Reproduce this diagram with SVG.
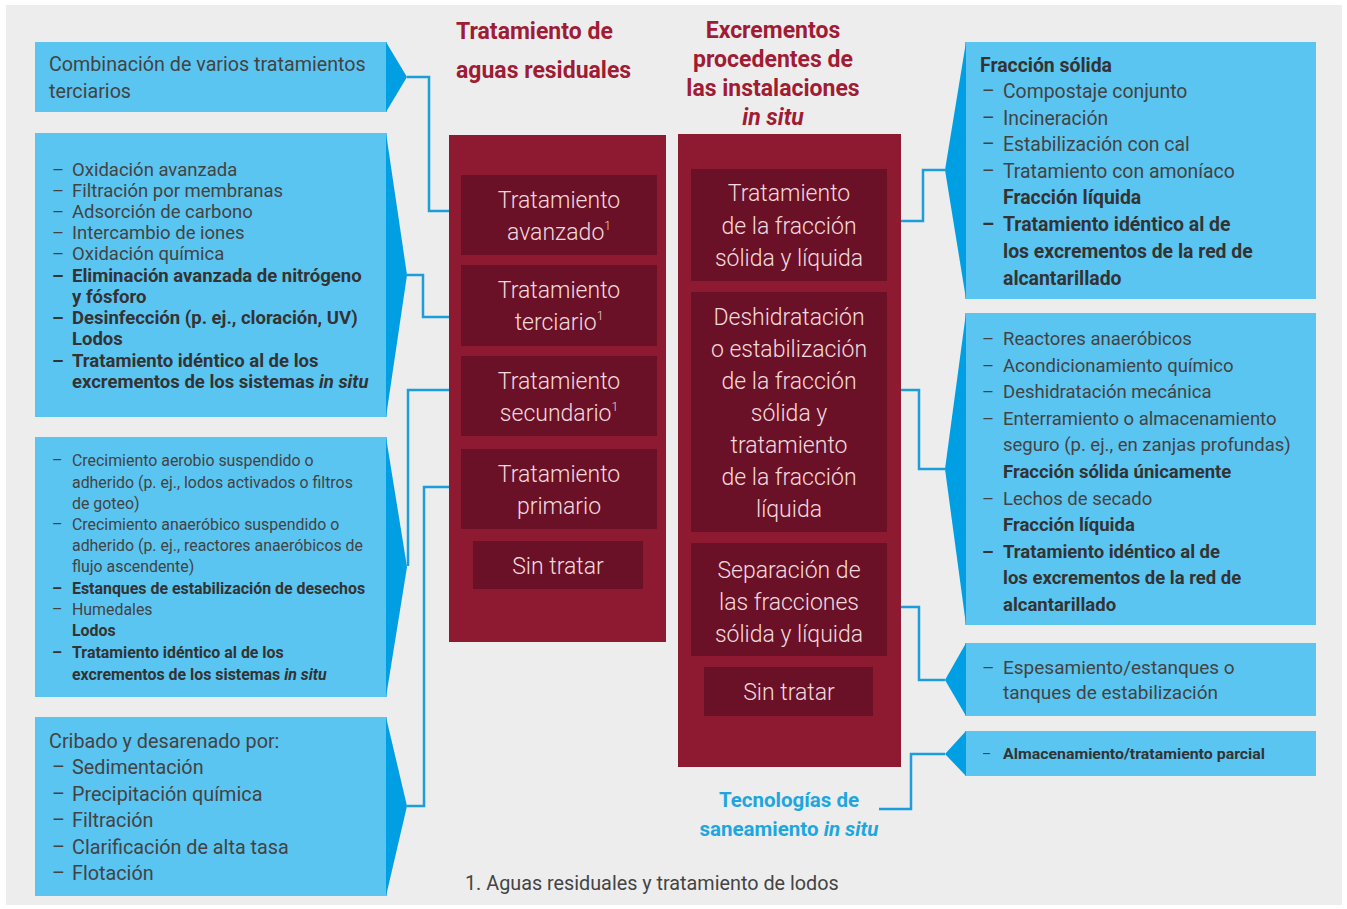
<svg xmlns="http://www.w3.org/2000/svg" width="1347" height="909" viewBox="0 0 1347 909">
<style>
text{font-family:Roboto,"Liberation Sans",sans-serif}
.bx{fill:#5bc5f2}
.tp{fill:#009fe3}
.col{fill:#8e1a31}
.in{fill:#6b1127}
.ct{fill:#f3d9de;font-size:23px;font-weight:300;text-anchor:middle}
.hd{fill:#a01c34;font-size:23px;font-weight:700}
.t{fill:#434343}
.b{font-weight:700;fill:#333}
.conn path{fill:none;stroke:#1b9edb;stroke-width:2.5}
</style>
<rect x="0" y="0" width="1347" height="909" fill="#ffffff"/>
<rect x="6" y="5" width="1336" height="900" fill="#ededed"/>

<g id="headers">
<text class="hd" x="456" y="39">Tratamiento de</text>
<text class="hd" x="456" y="78">aguas residuales</text>
<text class="hd" x="773" y="38" text-anchor="middle">Excrementos</text>
<text class="hd" x="773" y="67" text-anchor="middle">procedentes de</text>
<text class="hd" x="773" y="96" text-anchor="middle">las instalaciones</text>
<text class="hd" x="773" y="125" text-anchor="middle" font-style="italic">in situ</text>
</g>

<g id="col-aguas">
<rect class="col" x="449" y="135" width="217" height="507"/>
<g id="avanzado"><rect class="in" x="461" y="175" width="196" height="80"/>
<text class="ct" x="559" y="208">Tratamiento</text><text class="ct" x="559" y="240">avanzado<tspan font-size="12" dy="-10">1</tspan></text></g>
<g id="terciario"><rect class="in" x="461" y="265" width="196" height="81"/>
<text class="ct" x="559" y="298">Tratamiento</text><text class="ct" x="559" y="330">terciario<tspan font-size="12" dy="-10">1</tspan></text></g>
<g id="secundario"><rect class="in" x="461" y="356" width="196" height="80"/>
<text class="ct" x="559" y="389">Tratamiento</text><text class="ct" x="559" y="421">secundario<tspan font-size="12" dy="-10">1</tspan></text></g>
<g id="primario"><rect class="in" x="461" y="449" width="196" height="80"/>
<text class="ct" x="559" y="482">Tratamiento</text><text class="ct" x="559" y="514">primario</text></g>
<g id="sintratar1"><rect class="in" x="473" y="541" width="170" height="48"/>
<text class="ct" x="558" y="574">Sin tratar</text></g>
</g>

<g id="col-excrementos">
<rect class="col" x="678" y="134" width="223" height="633"/>
<g id="fraccion"><rect class="in" x="691" y="169" width="196" height="112"/>
<text class="ct" x="789" y="201">Tratamiento</text><text class="ct" x="789" y="234">de la fracción</text><text class="ct" x="789" y="266">sólida y líquida</text></g>
<g id="deshidratacion"><rect class="in" x="691" y="292" width="196" height="240"/>
<text class="ct" x="789" y="325">Deshidratación</text><text class="ct" x="789" y="357">o estabilización</text><text class="ct" x="789" y="389">de la fracción</text><text class="ct" x="789" y="421">sólida y</text><text class="ct" x="789" y="453">tratamiento</text><text class="ct" x="789" y="485">de la fracción</text><text class="ct" x="789" y="517">líquida</text></g>
<g id="separacion"><rect class="in" x="691" y="543" width="196" height="113"/>
<text class="ct" x="789" y="578">Separación de</text><text class="ct" x="789" y="610">las fracciones</text><text class="ct" x="789" y="642">sólida y líquida</text></g>
<g id="sintratar2"><rect class="in" x="704" y="667" width="169" height="49"/>
<text class="ct" x="789" y="700">Sin tratar</text></g>
</g>

<g class="conn" id="connectors">
<path d="M407,77 H429 V211 H449"/>
<path d="M407,275 H423 V317 H449"/>
<path d="M408,566 V390 H449"/>
<path d="M407,806 H424 V487 H449"/>
<path d="M901,221 H923 V170 H945"/>
<path d="M901,390 H919 V469 H945"/>
<path d="M901,607 H919 V680 H945"/>
<path d="M945,754 H911 V809 H879"/>
</g>

<g id="L1">
<rect class="bx" x="35" y="42" width="352" height="70"/>
<polygon class="tp" points="386,42 407,77 386,112"/>
<g class="t" font-size="19.7"><text x="49" y="71">Combinación de varios tratamientos</text><text x="49" y="98">terciarios</text></g>
</g>

<g id="L2">
<rect class="bx" x="35" y="133" width="352" height="284"/>
<polygon class="tp" points="386,133 407,275 386,417"/>
<g class="t" font-size="18.5">
<text x="52" y="176">–</text><text x="72" y="176">Oxidación avanzada</text>
<text x="52" y="197">–</text><text x="72" y="197">Filtración por membranas</text>
<text x="52" y="218">–</text><text x="72" y="218">Adsorción de carbono</text>
<text x="52" y="239">–</text><text x="72" y="239">Intercambio de iones</text>
<text x="52" y="260">–</text><text x="72" y="260">Oxidación química</text>
<text x="52" y="282" class="b">–</text><text x="72" y="282" class="b">Eliminación avanzada de nitrógeno</text>
<text x="72" y="303" class="b">y fósforo</text>
<text x="52" y="324" class="b">–</text><text x="72" y="324" class="b">Desinfección (p. ej., cloración, UV)</text>
<text x="72" y="345" class="b">Lodos</text>
<text x="52" y="367" class="b">–</text><text x="72" y="367" class="b">Tratamiento idéntico al de los</text>
<text x="72" y="388" class="b">excrementos de los sistemas <tspan font-style="italic">in situ</tspan></text>
</g>
</g>

<g id="L3">
<rect class="bx" x="35" y="437" width="352" height="260"/>
<polygon class="tp" points="386,437 407,567 386,697"/>
<g class="t" font-size="15.9">
<text x="52" y="466">–</text><text x="72" y="466">Crecimiento aerobio suspendido o</text>
<text x="72" y="488">adherido (p. ej., lodos activados o filtros</text>
<text x="72" y="509">de goteo)</text>
<text x="52" y="530">–</text><text x="72" y="530">Crecimiento anaeróbico suspendido o</text>
<text x="72" y="551">adherido (p. ej., reactores anaeróbicos de</text>
<text x="72" y="572">flujo ascendente)</text>
<text x="52" y="594" class="b">–</text><text x="72" y="594" class="b">Estanques de estabilización de desechos</text>
<text x="52" y="615">–</text><text x="72" y="615">Humedales</text>
<text x="72" y="636" class="b">Lodos</text>
<text x="52" y="658" class="b">–</text><text x="72" y="658" class="b">Tratamiento idéntico al de los</text>
<text x="72" y="680" class="b">excrementos de los sistemas <tspan font-style="italic">in situ</tspan></text>
</g>
</g>

<g id="L4">
<rect class="bx" x="35" y="717" width="352" height="179"/>
<polygon class="tp" points="386,717 407,806 386,896"/>
<g class="t" font-size="19.8">
<text x="49" y="748">Cribado y desarenado por:</text>
<text x="52" y="774">–</text><text x="72" y="774">Sedimentación</text>
<text x="52" y="801">–</text><text x="72" y="801">Precipitación química</text>
<text x="52" y="827">–</text><text x="72" y="827">Filtración</text>
<text x="52" y="854">–</text><text x="72" y="854">Clarificación de alta tasa</text>
<text x="52" y="880">–</text><text x="72" y="880">Flotación</text>
</g>
</g>

<g id="R1">
<rect class="bx" x="965" y="42" width="351" height="257"/>
<polygon class="tp" points="966,42 945,170 966,299"/>
<g class="t" font-size="19.4">
<text x="980" y="72" class="b">Fracción sólida</text>
<text x="982" y="98">–</text><text x="1003" y="98">Compostaje conjunto</text>
<text x="982" y="125">–</text><text x="1003" y="125">Incineración</text>
<text x="982" y="151">–</text><text x="1003" y="151">Estabilización con cal</text>
<text x="982" y="178">–</text><text x="1003" y="178">Tratamiento con amoníaco</text>
<text x="1003" y="204" class="b">Fracción líquida</text>
<text x="982" y="231" class="b">–</text><text x="1003" y="231" class="b">Tratamiento idéntico al de</text>
<text x="1003" y="258" class="b">los excrementos de la red de</text>
<text x="1003" y="285" class="b">alcantarillado</text>
</g>
</g>

<g id="R2">
<rect class="bx" x="965" y="313" width="351" height="312"/>
<polygon class="tp" points="966,313 945,469 966,625"/>
<g class="t" font-size="18.5">
<text x="982" y="345">–</text><text x="1003" y="345">Reactores anaeróbicos</text>
<text x="982" y="372">–</text><text x="1003" y="372">Acondicionamiento químico</text>
<text x="982" y="398">–</text><text x="1003" y="398">Deshidratación mecánica</text>
<text x="982" y="425">–</text><text x="1003" y="425">Enterramiento o almacenamiento</text>
<text x="1003" y="451">seguro (p. ej., en zanjas profundas)</text>
<text x="1003" y="478" class="b">Fracción sólida únicamente</text>
<text x="982" y="505">–</text><text x="1003" y="505">Lechos de secado</text>
<text x="1003" y="531" class="b">Fracción líquida</text>
<text x="982" y="558" class="b">–</text><text x="1003" y="558" class="b">Tratamiento idéntico al de</text>
<text x="1003" y="584" class="b">los excrementos de la red de</text>
<text x="1003" y="611" class="b">alcantarillado</text>
</g>
</g>

<g id="R3">
<rect class="bx" x="965" y="643" width="351" height="73"/>
<polygon class="tp" points="966,643 945,680 966,716"/>
<g class="t" font-size="19">
<text x="982" y="674">–</text><text x="1003" y="674">Espesamiento/estanques o</text>
<text x="1003" y="699">tanques de estabilización</text>
</g>
</g>

<g id="R4">
<rect class="bx" x="965" y="731" width="351" height="45"/>
<polygon class="tp" points="966,731 945,754 966,776"/>
<g class="t" font-size="14">
<text x="982" y="759">–</text><text x="1003" y="759" class="b" textLength="262" lengthAdjust="spacingAndGlyphs">Almacenamiento/tratamiento parcial</text>
</g>
</g>

<g id="onsite-label" fill="#1ea6df" font-size="20.5" font-weight="700" text-anchor="middle">
<text x="789" y="807">Tecnologías de</text>
<text x="789" y="836">saneamiento <tspan font-style="italic">in situ</tspan></text>
</g>

<text x="465" y="890" fill="#444" font-size="19.8">1. Aguas residuales y tratamiento de lodos</text>
</svg>
